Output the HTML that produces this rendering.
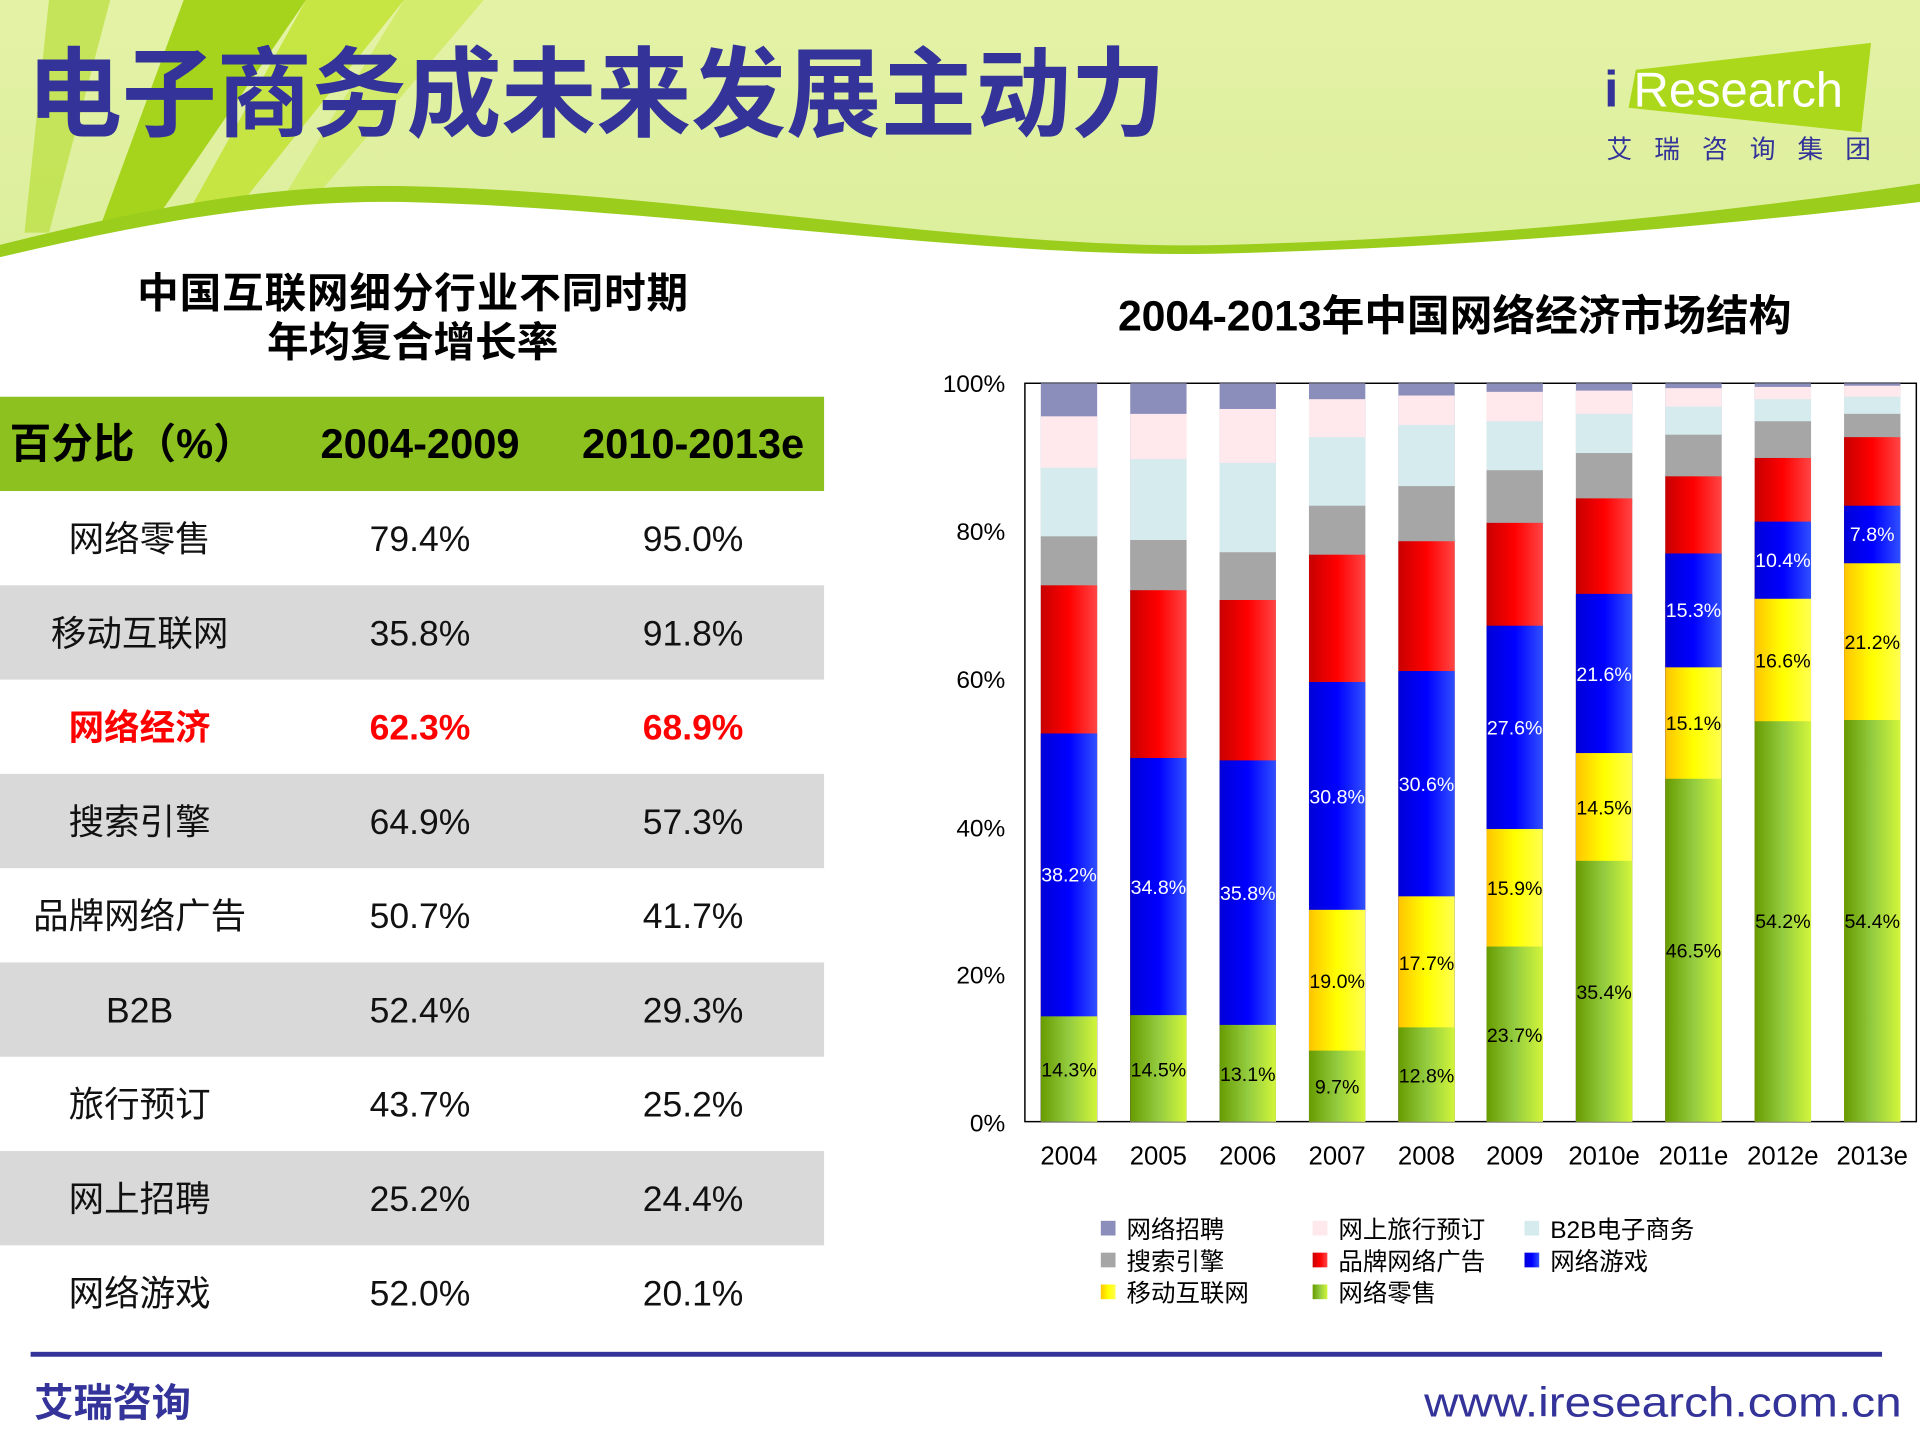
<!DOCTYPE html>
<html><head><meta charset="utf-8"><style>
html,body{margin:0;padding:0;background:#fff;}
svg{display:block;}
text{font-family:"Liberation Sans","Noto Sans CJK SC",sans-serif;}
</style></head><body>
<svg width="1920" height="1440" viewBox="0 0 1568 1176" xmlns="http://www.w3.org/2000/svg">
<defs>
<linearGradient id="hg" x1="0" y1="0" x2="0" y2="1"><stop offset="0" stop-color="#e4f2a6"/><stop offset="1" stop-color="#dcef9c"/></linearGradient>
<linearGradient id="gG" x1="0" x2="1"><stop offset="0" stop-color="#679b00"/><stop offset="0.5" stop-color="#93cc40"/><stop offset="1" stop-color="#d2f53a"/></linearGradient>
<linearGradient id="gY" x1="0" x2="1"><stop offset="0" stop-color="#ffc400"/><stop offset="0.5" stop-color="#ffff00"/><stop offset="1" stop-color="#ffff50"/></linearGradient>
<linearGradient id="gB" x1="0" x2="1"><stop offset="0" stop-color="#0000d8"/><stop offset="0.5" stop-color="#0000ff"/><stop offset="1" stop-color="#3050ff"/></linearGradient>
<linearGradient id="gR" x1="0" x2="1"><stop offset="0" stop-color="#c80000"/><stop offset="0.5" stop-color="#ff0000"/><stop offset="1" stop-color="#ff4545"/></linearGradient>
</defs>
<rect x="0" y="0" width="1568" height="215" fill="url(#hg)"/>
<polygon points="40,0 90,0 40,190 20,190" fill="#b9de3a" opacity="0.7"/>
<polygon points="150,0 250,0 120,190 80,190" fill="#a6d41c"/>
<polygon points="250,0 330,0 190,175 150,180" fill="#bfe22a" opacity="0.8"/>
<polygon points="330,0 395,0 250,170 225,172" fill="#c8e84a" opacity="0.6"/>
<path d="M0,200 C120,170 220,150 330,152 C550,156 800,205 1000,200 C1200,195 1400,175 1568,150 L1568,1176 L0,1176 Z" fill="#9acd1c"/>
<path d="M0,210 C120,182 220,163 330,165 C550,170 800,212 1000,207 C1200,202 1400,185 1568,165 L1568,1176 L0,1176 Z" fill="#fff"/>
<text x="22" y="105" font-size="80" font-weight="bold" fill="#333399" textLength="930" lengthAdjust="spacingAndGlyphs">电子商务成未来发展主动力</text>
<polygon points="1336,57 1528,35 1520,108 1330,88" fill="#acd81c"/>
<text x="1310" y="87" font-size="42" fill="#333399" font-weight="bold">i</text>
<text x="1334" y="87" font-size="40" fill="#fff">Research</text>
<text x="1312" y="129" font-size="21" fill="#333399" letter-spacing="18">艾瑞咨询集团</text>

<text x="337" y="251" font-size="34" font-weight="bold" text-anchor="middle" fill="#000" textLength="450">中国互联网细分行业不同时期</text>
<text x="337" y="291" font-size="34" font-weight="bold" text-anchor="middle" fill="#000">年均复合增长率</text>
<rect x="0" y="324" width="673" height="77" fill="#8cc11f"/>
<rect x="0" y="478" width="673" height="77" fill="#d9d9d9"/>
<rect x="0" y="632" width="673" height="77" fill="#d9d9d9"/>
<rect x="0" y="786" width="673" height="77" fill="#d9d9d9"/>
<rect x="0" y="940" width="673" height="77" fill="#d9d9d9"/>
<g font-size="34" font-weight="bold" fill="#000" text-anchor="middle">
<text x="108" y="374">百分比（%）</text><text x="343" y="374">2004-2009</text><text x="566" y="374">2010-2013e</text></g>
<g font-size="29" fill="#111" text-anchor="middle">
<text x="114" y="450">网络零售</text><text x="343" y="450">79.4%</text><text x="566" y="450">95.0%</text>
<text x="114" y="527">移动互联网</text><text x="343" y="527">35.8%</text><text x="566" y="527">91.8%</text>
<g fill="#ff0000" font-weight="bold"><text x="114" y="604">网络经济</text><text x="343" y="604">62.3%</text><text x="566" y="604">68.9%</text></g>
<text x="114" y="681">搜索引擎</text><text x="343" y="681">64.9%</text><text x="566" y="681">57.3%</text>
<text x="114" y="758">品牌网络广告</text><text x="343" y="758">50.7%</text><text x="566" y="758">41.7%</text>
<text x="114" y="835">B2B</text><text x="343" y="835">52.4%</text><text x="566" y="835">29.3%</text>
<text x="114" y="912">旅行预订</text><text x="343" y="912">43.7%</text><text x="566" y="912">25.2%</text>
<text x="114" y="989">网上招聘</text><text x="343" y="989">25.2%</text><text x="566" y="989">24.4%</text>
<text x="114" y="1066">网络游戏</text><text x="343" y="1066">52.0%</text><text x="566" y="1066">20.1%</text>
</g>

<text x="1188" y="270" font-size="35" font-weight="bold" text-anchor="middle" fill="#000" textLength="550">2004-2013年中国网络经济市场结构</text>
<g font-size="20" fill="#000" text-anchor="end">
<text x="821" y="320">100%</text><text x="821" y="441">80%</text><text x="821" y="562">60%</text><text x="821" y="683">40%</text><text x="821" y="803">20%</text><text x="821" y="924">0%</text></g>
<rect x="837" y="313" width="728" height="603" fill="none" stroke="#000" stroke-width="1.2"/>
<g>
<rect x="850" y="313" width="46" height="603" fill="#8b8dbb"/><rect x="850" y="340" width="46" height="576" fill="#ffe9ec"/><rect x="850" y="382" width="46" height="534" fill="#d5ebee"/><rect x="850" y="438" width="46" height="478" fill="#a6a6a6"/><rect x="850" y="478" width="46" height="438" fill="url(#gR)"/><rect x="850" y="599" width="46" height="317" fill="url(#gB)"/><rect x="850" y="830" width="46" height="86" fill="url(#gG)"/>
<rect x="923" y="313" width="46" height="603" fill="#8b8dbb"/><rect x="923" y="338" width="46" height="578" fill="#ffe9ec"/><rect x="923" y="375" width="46" height="541" fill="#d5ebee"/><rect x="923" y="441" width="46" height="475" fill="#a6a6a6"/><rect x="923" y="482" width="46" height="434" fill="url(#gR)"/><rect x="923" y="619" width="46" height="297" fill="url(#gB)"/><rect x="923" y="829" width="46" height="87" fill="url(#gG)"/>
<rect x="996" y="313" width="46" height="603" fill="#8b8dbb"/><rect x="996" y="334" width="46" height="582" fill="#ffe9ec"/><rect x="996" y="378" width="46" height="538" fill="#d5ebee"/><rect x="996" y="451" width="46" height="465" fill="#a6a6a6"/><rect x="996" y="490" width="46" height="426" fill="url(#gR)"/><rect x="996" y="621" width="46" height="295" fill="url(#gB)"/><rect x="996" y="837" width="46" height="79" fill="url(#gG)"/>
<rect x="1069" y="313" width="46" height="603" fill="#8b8dbb"/><rect x="1069" y="326" width="46" height="590" fill="#ffe9ec"/><rect x="1069" y="357" width="46" height="559" fill="#d5ebee"/><rect x="1069" y="413" width="46" height="503" fill="#a6a6a6"/><rect x="1069" y="453" width="46" height="463" fill="url(#gR)"/><rect x="1069" y="557" width="46" height="359" fill="url(#gB)"/><rect x="1069" y="743" width="46" height="173" fill="url(#gY)"/><rect x="1069" y="858" width="46" height="58" fill="url(#gG)"/>
<rect x="1142" y="313" width="46" height="603" fill="#8b8dbb"/><rect x="1142" y="323" width="46" height="593" fill="#ffe9ec"/><rect x="1142" y="347" width="46" height="569" fill="#d5ebee"/><rect x="1142" y="397" width="46" height="519" fill="#a6a6a6"/><rect x="1142" y="442" width="46" height="474" fill="url(#gR)"/><rect x="1142" y="548" width="46" height="368" fill="url(#gB)"/><rect x="1142" y="732" width="46" height="184" fill="url(#gY)"/><rect x="1142" y="839" width="46" height="77" fill="url(#gG)"/>
<rect x="1214" y="313" width="46" height="603" fill="#8b8dbb"/><rect x="1214" y="320" width="46" height="596" fill="#ffe9ec"/><rect x="1214" y="344" width="46" height="572" fill="#d5ebee"/><rect x="1214" y="384" width="46" height="532" fill="#a6a6a6"/><rect x="1214" y="427" width="46" height="489" fill="url(#gR)"/><rect x="1214" y="511" width="46" height="405" fill="url(#gB)"/><rect x="1214" y="677" width="46" height="239" fill="url(#gY)"/><rect x="1214" y="773" width="46" height="143" fill="url(#gG)"/>
<rect x="1287" y="313" width="46" height="603" fill="#8b8dbb"/><rect x="1287" y="319" width="46" height="597" fill="#ffe9ec"/><rect x="1287" y="338" width="46" height="578" fill="#d5ebee"/><rect x="1287" y="370" width="46" height="546" fill="#a6a6a6"/><rect x="1287" y="407" width="46" height="509" fill="url(#gR)"/><rect x="1287" y="485" width="46" height="431" fill="url(#gB)"/><rect x="1287" y="615" width="46" height="301" fill="url(#gY)"/><rect x="1287" y="703" width="46" height="213" fill="url(#gG)"/>
<rect x="1360" y="313" width="46" height="603" fill="#8b8dbb"/><rect x="1360" y="317" width="46" height="599" fill="#ffe9ec"/><rect x="1360" y="332" width="46" height="584" fill="#d5ebee"/><rect x="1360" y="355" width="46" height="561" fill="#a6a6a6"/><rect x="1360" y="389" width="46" height="527" fill="url(#gR)"/><rect x="1360" y="452" width="46" height="464" fill="url(#gB)"/><rect x="1360" y="545" width="46" height="371" fill="url(#gY)"/><rect x="1360" y="636" width="46" height="280" fill="url(#gG)"/>
<rect x="1433" y="313" width="46" height="603" fill="#8b8dbb"/><rect x="1433" y="316" width="46" height="600" fill="#ffe9ec"/><rect x="1433" y="326" width="46" height="590" fill="#d5ebee"/><rect x="1433" y="344" width="46" height="572" fill="#a6a6a6"/><rect x="1433" y="374" width="46" height="542" fill="url(#gR)"/><rect x="1433" y="426" width="46" height="490" fill="url(#gB)"/><rect x="1433" y="489" width="46" height="427" fill="url(#gY)"/><rect x="1433" y="589" width="46" height="327" fill="url(#gG)"/>
<rect x="1506" y="313" width="46" height="603" fill="#8b8dbb"/><rect x="1506" y="315" width="46" height="601" fill="#ffe9ec"/><rect x="1506" y="324" width="46" height="592" fill="#d5ebee"/><rect x="1506" y="338" width="46" height="578" fill="#a6a6a6"/><rect x="1506" y="357" width="46" height="559" fill="url(#gR)"/><rect x="1506" y="413" width="46" height="503" fill="url(#gB)"/><rect x="1506" y="460" width="46" height="456" fill="url(#gY)"/><rect x="1506" y="588" width="46" height="328" fill="url(#gG)"/>
</g>
<g font-size="16" text-anchor="middle" fill="#000">
<text x="873" y="879">14.3%</text><text x="946" y="879">14.5%</text><text x="1019" y="883">13.1%</text><text x="1092" y="893">9.7%</text><text x="1165" y="884">12.8%</text><text x="1237" y="851">23.7%</text><text x="1310" y="816">35.4%</text><text x="1383" y="782">46.5%</text><text x="1456" y="758">54.2%</text><text x="1529" y="758">54.4%</text>
<text x="1092" y="807">19.0%</text><text x="1165" y="792">17.7%</text><text x="1237" y="731">15.9%</text><text x="1310" y="665">14.5%</text><text x="1383" y="596">15.1%</text><text x="1456" y="545">16.6%</text><text x="1529" y="530">21.2%</text>
<g fill="#fff"><text x="873" y="720">38.2%</text><text x="946" y="730">34.8%</text><text x="1019" y="735">35.8%</text><text x="1092" y="656">30.8%</text><text x="1165" y="646">30.6%</text><text x="1237" y="600">27.6%</text><text x="1310" y="556">21.6%</text><text x="1383" y="504">15.3%</text><text x="1456" y="463">10.4%</text><text x="1529" y="442">7.8%</text></g>
</g>
<g font-size="21" text-anchor="middle" fill="#000">
<text x="873" y="951">2004</text><text x="946" y="951">2005</text><text x="1019" y="951">2006</text><text x="1092" y="951">2007</text><text x="1165" y="951">2008</text><text x="1237" y="951">2009</text><text x="1310" y="951">2010e</text><text x="1383" y="951">2011e</text><text x="1456" y="951">2012e</text><text x="1529" y="951">2013e</text></g>
<g font-size="20" fill="#000">
<rect x="899" y="997" width="12" height="12" fill="#8b8dbb"/><text x="920" y="1011">网络招聘</text>
<rect x="1072" y="997" width="12" height="12" fill="#ffe9ec"/><text x="1093" y="1011">网上旅行预订</text>
<rect x="1245" y="997" width="12" height="12" fill="#d5ebee"/><text x="1266" y="1011">B2B电子商务</text>
<rect x="899" y="1023" width="12" height="12" fill="#a6a6a6"/><text x="920" y="1037">搜索引擎</text>
<rect x="1072" y="1023" width="12" height="12" fill="url(#gR)"/><text x="1093" y="1037">品牌网络广告</text>
<rect x="1245" y="1023" width="12" height="12" fill="url(#gB)"/><text x="1266" y="1037">网络游戏</text>
<rect x="899" y="1049" width="12" height="12" fill="url(#gY)"/><text x="920" y="1063">移动互联网</text>
<rect x="1072" y="1049" width="12" height="12" fill="url(#gG)"/><text x="1093" y="1063">网络零售</text>
</g>
<rect x="25" y="1104" width="1512" height="4" fill="#333399"/>
<text x="28" y="1157" font-size="32" font-weight="bold" fill="#333399">艾瑞咨询</text>
<text x="1553" y="1157" font-size="34" fill="#333399" text-anchor="end" textLength="390" lengthAdjust="spacingAndGlyphs">www.iresearch.com.cn</text>
</svg>
</body></html>
